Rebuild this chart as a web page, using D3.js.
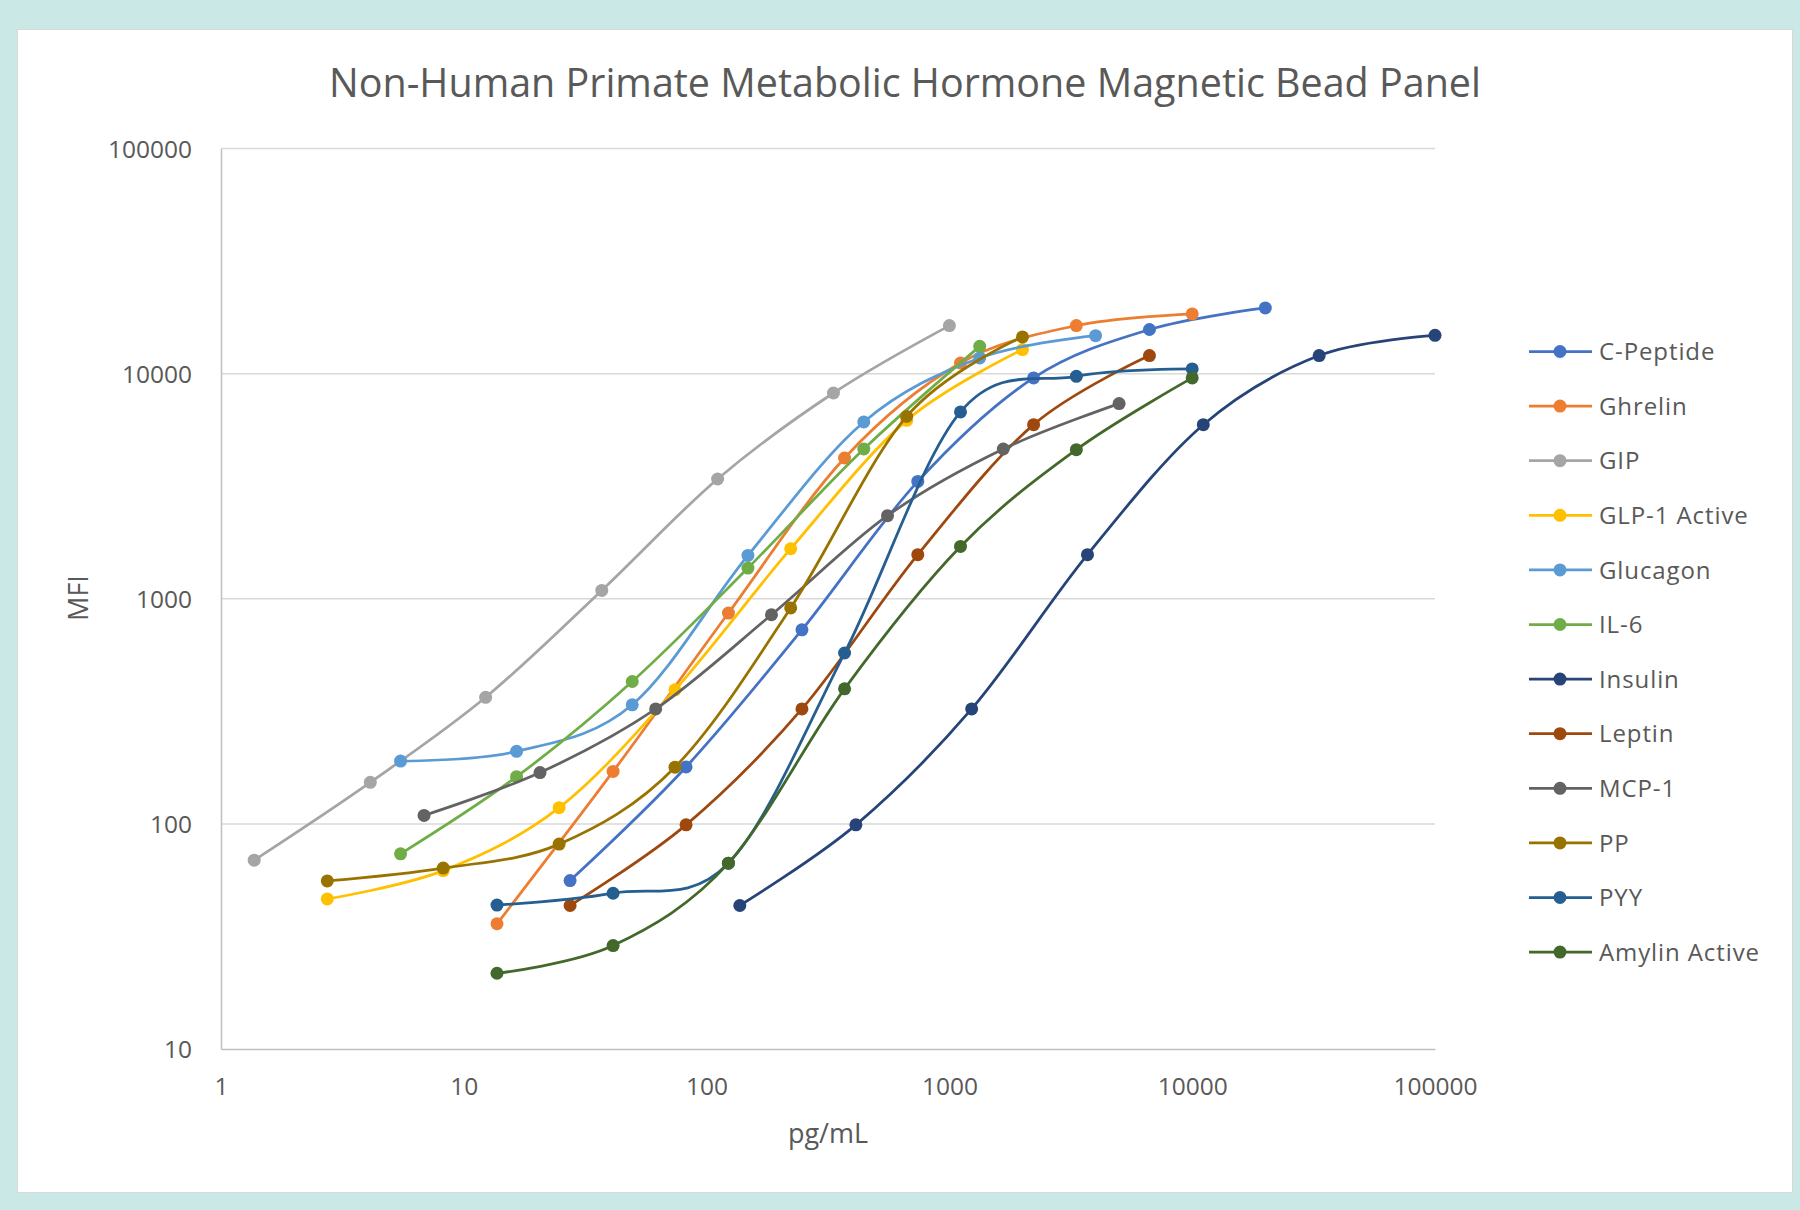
<!DOCTYPE html>
<html>
<head>
<meta charset="utf-8">
<script src="https://cdn.jsdelivr.net/npm/d3@7"></script>
<style>
  html, body { margin: 0; padding: 0; background: #C9E8E6; }
  svg { display: block; }
  text { font-family: "Open Sans", "Noto Sans", sans-serif; fill: #595959; }
</style>
</head>
<body>
<svg id="chart" width="1800" height="1210"></svg>
<script>
// ---------------- DATA ----------------
const chartTitle = "Non-Human Primate Metabolic Hormone Magnetic Bead Panel";
const xAxisTitle = "pg/mL";
const yAxisTitle = "MFI";
const xTickValues = [1, 10, 100, 1000, 10000, 100000];
const yTickValues = [10, 100, 1000, 10000, 100000];
const seriesNames = ["C-Peptide", "Ghrelin", "GIP", "GLP-1 Active", "Glucagon", "IL-6",
                     "Insulin", "Leptin", "MCP-1", "PP", "PYY", "Amylin Active"];
const seriesColors = ["#4472C4", "#ED7D31", "#A5A5A5", "#FFC000", "#5B9BD5", "#70AD47",
                      "#264478", "#9E480E", "#636363", "#997300", "#255E91", "#43682B"];

const cPeptideX = [27.4, 82.3, 247, 741, 2222, 6667, 20000];
const cPeptideY = [56, 179, 728, 3320, 9570, 15700, 19590];
const ghrelinX  = [13.7, 41.2, 123, 370, 1111, 3333, 10000];
const ghrelinY  = [36, 171, 864, 4220, 11150, 16340, 18420];
const gipX      = [1.37, 4.12, 12.3, 37, 111, 333, 1000];
const gipY      = [69, 153, 365, 1089, 3404, 8204, 16340];
const glp1X     = [2.74, 8.23, 24.7, 74.1, 222, 667, 2000];
const glp1Y     = [46.4, 62, 118, 394, 1668, 6200, 12790];
const glucagonX = [5.49, 16.5, 49.4, 148, 444, 1333, 4000];
const glucagonY = [190, 210, 338, 1557, 6100, 11740, 14750];
const il6X      = [5.49, 16.5, 49.4, 148, 444, 1333];
const il6Y      = [73.6, 162, 429, 1369, 4625, 13220];
const insulinX  = [137, 412, 1235, 3704, 11111, 33333, 100000];
const insulinY  = [43.4, 99, 324, 1570, 5930, 12030, 14800];
const leptinX   = [27.4, 82.3, 247, 741, 2222, 6667];
const leptinY   = [43.4, 99, 324, 1570, 5935, 12030];
const mcp1X     = [6.86, 20.6, 61.7, 185, 556, 1667, 5000];
const mcp1Y     = [109, 169, 324, 849, 2339, 4625, 7360];
const ppX       = [2.74, 8.23, 24.7, 74.1, 222, 667, 2000];
const ppY       = [55.8, 63.6, 81.3, 178.6, 910, 6457, 14560];
const pyyX      = [13.7, 41.2, 123, 370, 1111, 3333, 10000];
const pyyY      = [43.6, 49.2, 66.9, 574, 6760, 9730, 10490];
const amylinX   = [13.7, 41.2, 123, 370, 1111, 3333, 10000];
const amylinY   = [21.7, 28.8, 66.9, 398, 1707, 4595, 9570];

const seriesXs = [cPeptideX, ghrelinX, gipX, glp1X, glucagonX, il6X, insulinX, leptinX, mcp1X, ppX, pyyX, amylinX];
const seriesYs = [cPeptideY, ghrelinY, gipY, glp1Y, glucagonY, il6Y, insulinY, leptinY, mcp1Y, ppY, pyyY, amylinY];

// ---------------- LAYOUT ----------------
const svg = d3.select("#chart");
const plot = { left: 221, right: 1435, top: 148.5, bottom: 1049 };

// white panel
svg.append("rect")
  .attr("x", 17.5).attr("y", 29.5).attr("width", 1775).attr("height", 1163)
  .attr("fill", "#FFFFFF").attr("stroke", "#D9D9D9").attr("stroke-width", 1);

const x = d3.scaleLog().domain([1, 100000]).range([plot.left, plot.right]);
const y = d3.scaleLog().domain([10, 100000]).range([plot.bottom, plot.top]);

// title
const title = svg.append("text")
  .attr("x", 905).attr("y", 97)
  .attr("text-anchor", "middle")
  .style("font-size", "40px")
  .text(chartTitle);
title.attr("textLength", 1152).attr("lengthAdjust", "spacingAndGlyphs");

// horizontal gridlines
svg.append("g").selectAll("line")
  .data(yTickValues.filter(v => v > 10))
  .join("line")
  .attr("x1", plot.left).attr("x2", plot.right)
  .attr("y1", d => y(d)).attr("y2", d => y(d))
  .attr("stroke", "#D9D9D9").attr("stroke-width", 1.5);

// axes (using d3 axes, styled)
const yAxis = d3.axisLeft(y).tickValues(yTickValues).tickFormat(d3.format("d")).tickSize(0).tickPadding(29);
const gy = svg.append("g").attr("transform", `translate(${plot.left},0)`).call(yAxis);
gy.select(".domain").attr("stroke", "#BFBFBF").attr("stroke-width", 1.5);
gy.selectAll("text").style("font-size", "24.5px").attr("fill", "#595959").attr("dy", "0.36em");

const xAxis = d3.axisBottom(x).tickValues(xTickValues).tickFormat(d3.format("d")).tickSize(0).tickPadding(37);
const gx = svg.append("g").attr("transform", `translate(0,${plot.bottom})`).call(xAxis);
gx.select(".domain").attr("stroke", "#BFBFBF").attr("stroke-width", 1.5);
gx.selectAll("text").style("font-size", "24.5px").attr("fill", "#595959").attr("dy", "0.36em");

// axis titles
svg.append("text")
  .attr("x", 828).attr("y", 1143)
  .attr("text-anchor", "middle")
  .style("font-size", "27px")
  .text(xAxisTitle);
svg.append("text")
  .attr("transform", "translate(88,598) rotate(-90)")
  .attr("text-anchor", "middle")
  .style("font-size", "27px")
  .text(yAxisTitle);

// series
const line = d3.line()
  .x(d => x(d[0])).y(d => y(d[1]))
  .curve(d3.curveCardinal.tension(0));

const gSeries = svg.append("g");
seriesNames.forEach((name, i) => {
  const pts = seriesXs[i].map((xv, j) => [xv, seriesYs[i][j]]);
  const g = gSeries.append("g");
  g.append("path")
    .attr("d", line(pts))
    .attr("fill", "none")
    .attr("stroke", seriesColors[i])
    .attr("stroke-width", 2.75)
    .attr("stroke-linejoin", "round");
  g.selectAll("circle")
    .data(pts)
    .join("circle")
    .attr("cx", d => x(d[0])).attr("cy", d => y(d[1]))
    .attr("r", 6.5)
    .attr("fill", seriesColors[i]);
});

// legend
const legend = svg.append("g");
const legY0 = 351.5, legStep = 54.6;
seriesNames.forEach((name, i) => {
  const ly = legY0 + i * legStep;
  legend.append("line")
    .attr("x1", 1529).attr("x2", 1592).attr("y1", ly).attr("y2", ly)
    .attr("stroke", seriesColors[i]).attr("stroke-width", 2.75);
  legend.append("circle")
    .attr("cx", 1560).attr("cy", ly).attr("r", 6.5)
    .attr("fill", seriesColors[i]);
  legend.append("text")
    .attr("x", 1599).attr("y", ly).attr("dy", "0.36em")
    .style("font-size", "24px")
    .style("letter-spacing", "0.9px")
    .text(name);
});
</script>
</body>
</html>
